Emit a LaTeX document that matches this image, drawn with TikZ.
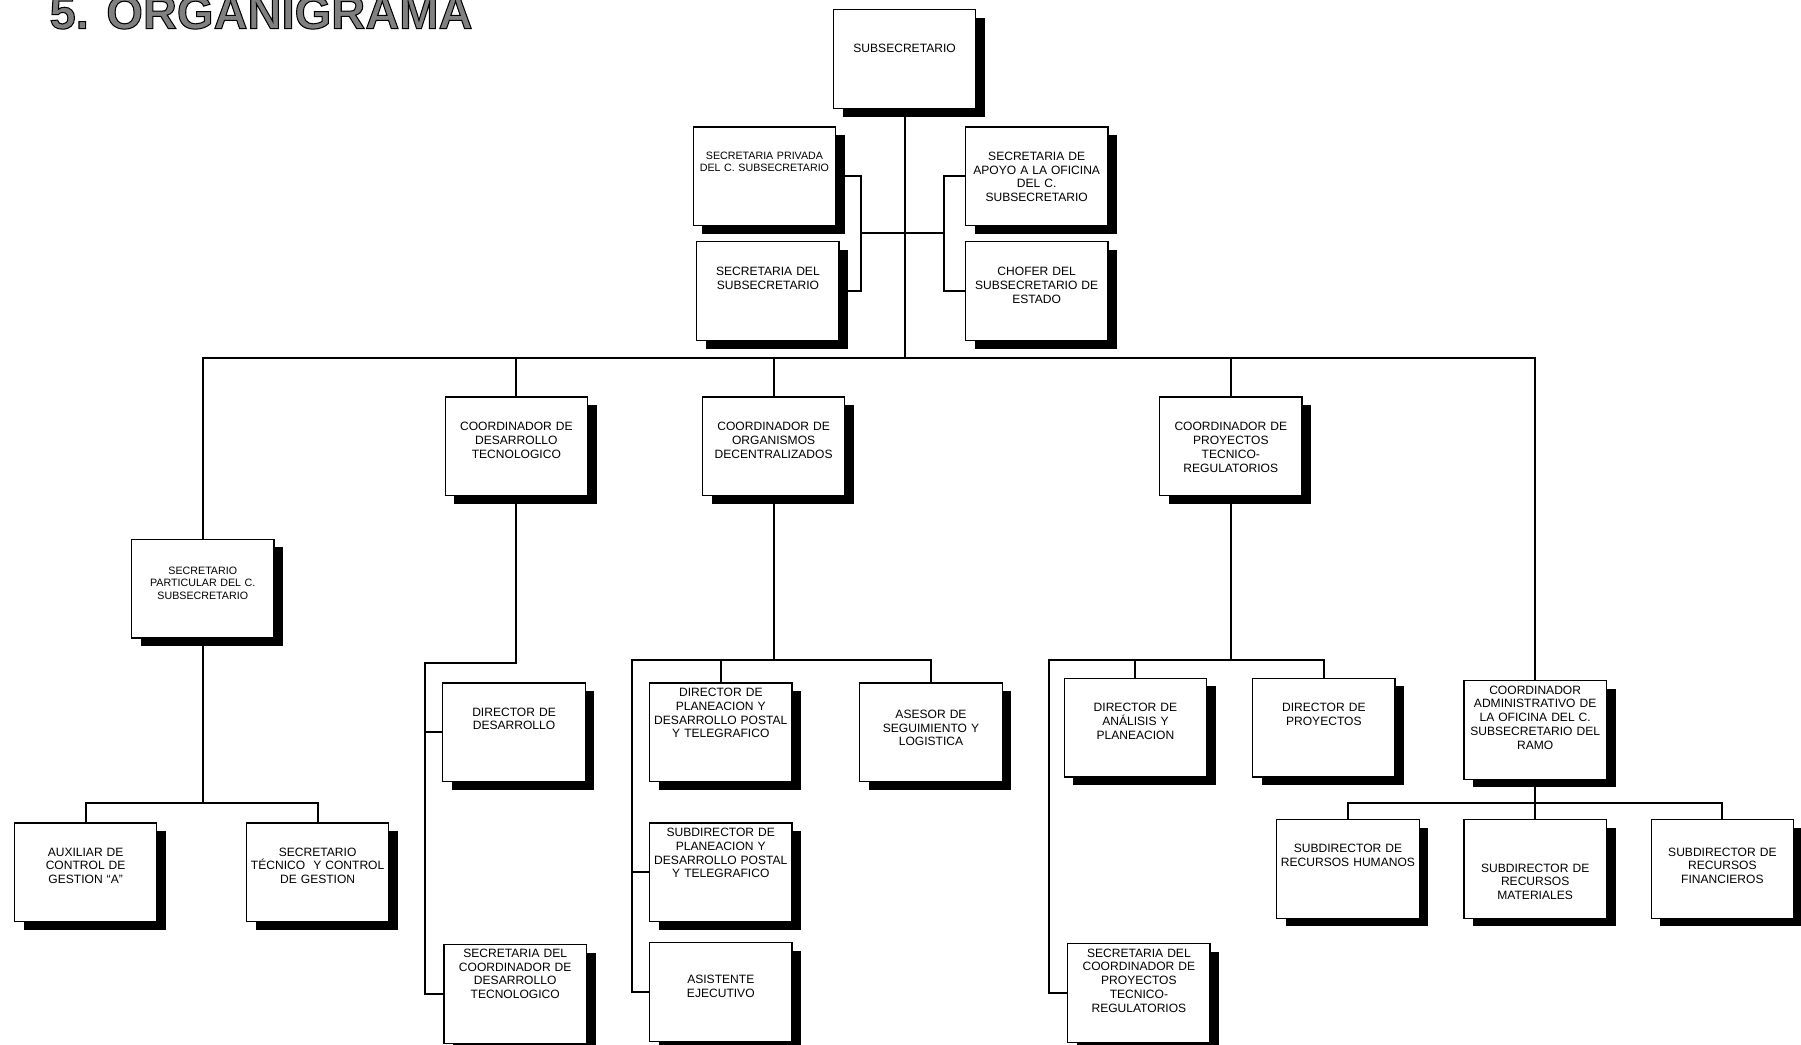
\documentclass[tikz,border=0pt]{standalone}
\usepackage{fontspec}
\setmainfont{Liberation Sans}
\usetikzlibrary{positioning,shadows}

% outlined title letters (fill, then stroke)
\newcommand\outlined[1]{\special{pdf:code 2 Tr 0.9 w 0 G}#1\special{pdf:code 0 Tr}}

\begin{document}
\begin{tikzpicture}[
  x=1pt, y=-1pt,
  box/.style={rectangle, draw, line width=1.1pt, fill=white, anchor=north west,
    text width=120pt, inner xsep=2pt, inner ysep=0pt, align=center,
    font=\fontsize{10.5}{12}\selectfont,
    drop shadow={shadow xshift=8pt, shadow yshift=-7pt, fill=black, opacity=1}},
  firstline/.code={\pgfmathsetlengthmacro\boxdepth{86pt-#1}%
    \edef\next{\noexpand\pgfkeysalso{text height=#1, text depth=\boxdepth}}\next},
  small/.style={font=\fontsize{9.3}{10.5}\selectfont},
  title/.style={font=\fontsize{41}{41}\selectfont\bfseries, text=gray, anchor=base west, inner sep=0pt},
  link/.style={line width=1.8pt}
]
\useasboundingbox (0,0) rectangle (1568,909);

% Title
\node[title] (title) at (43,25) {\outlined{5. ORGANIGRAMA}};

% Top level - Subsecretario and his staff
\node[box, firstline=37pt] (subsec) at (725,8) {SUBSECRETARIO};
\node[box, small, firstline=28.5pt] (priv) at (603,110) {SECRETARIA PRIVADA\\DEL C. SUBSECRETARIO};
\node[box, firstline=29.5pt] (secsub) at (606,210) {SECRETARIA DEL\\SUBSECRETARIO};
\node[box, firstline=29pt] (apoyo) at (840,110) {SECRETARIA DE\\APOYO A LA OFICINA\\DEL C.\\SUBSECRETARIO};
\node[box, firstline=29.5pt] (chofer) at (840,210) {CHOFER DEL\\SUBSECRETARIO DE\\ESTADO};

% Second level - Coordinadores
\node[box, small, firstline=31pt] (partic) at (114,469) {SECRETARIO\\PARTICULAR DEL C.\\SUBSECRETARIO};
\node[box, firstline=29.5pt] (coordDT) at (387,345) {COORDINADOR DE\\DESARROLLO\\TECNOLOGICO};
\node[box, firstline=29.5pt] (coordOD) at (611,345) {COORDINADOR DE\\ORGANISMOS\\DECENTRALIZADOS};
\node[box, firstline=29.5pt] (coordPTR) at (1009,345) {COORDINADOR DE\\PROYECTOS\\TECNICO-\\REGULATORIOS};
\node[box, firstline=11.8pt] (coordAdm) at (1274,592) {COORDINADOR\\ADMINISTRATIVO DE\\LA OFICINA DEL C.\\SUBSECRETARIO DEL\\RAMO};

% Third level - under Secretario Particular
\node[box, firstline=28.8pt] (aux) at (12,716) {AUXILIAR DE\\CONTROL DE\\GESTION “A”};
\node[box, firstline=28.8pt] (secTec) at (214,716) {SECRETARIO\\TÉCNICO~ Y CONTROL\\DE GESTION};

% Third level - under Desarrollo Tecnologico
\node[box, firstline=29pt] (dirDes) at (385,594) {DIRECTOR DE\\DESARROLLO};
\node[box, firstline=11pt] (secDT) at (386,822) {SECRETARIA DEL\\COORDINADOR DE\\DESARROLLO\\TECNOLOGICO};

% Third level - under Organismos Decentralizados
\node[box, firstline=11.8pt] (dirPlan) at (565,594) {DIRECTOR DE\\PLANEACION Y\\DESARROLLO POSTAL\\Y TELEGRAFICO};
\node[box, firstline=30.8pt] (asesor) at (748,594) {ASESOR DE\\SEGUIMIENTO Y\\LOGISTICA};
\node[box, firstline=11.8pt] (subPlan) at (565,716) {SUBDIRECTOR DE\\PLANEACION Y\\DESARROLLO POSTAL\\Y TELEGRAFICO};
\node[box, firstline=35.8pt] (asist) at (565,820) {ASISTENTE\\EJECUTIVO};

% Third level - under Proyectos Tecnico-Regulatorios
\node[box, firstline=29pt] (dirAn) at (926,590) {DIRECTOR DE\\ANÁLISIS Y\\PLANEACION};
\node[box, firstline=29pt] (dirProy) at (1090,590) {DIRECTOR DE\\PROYECTOS};
\node[box, firstline=11.8pt] (secPTR) at (929,821) {SECRETARIA DEL\\COORDINADOR DE\\PROYECTOS\\TECNICO-\\REGULATORIOS};

% Third level - under Coordinador Administrativo
\node[box, firstline=29pt] (subRH) at (1111,713) {SUBDIRECTOR DE\\RECURSOS HUMANOS};
\node[box, firstline=45.8pt] (subRM) at (1274,713) {SUBDIRECTOR DE\\RECURSOS\\MATERIALES};
\node[box, firstline=31.8pt] (subRF) at (1437,713) {SUBDIRECTOR DE\\RECURSOS\\FINANCIEROS};

% Junction points
\coordinate (bus) at (0,312);
\coordinate (lbr) at (750,203);
\coordinate (rbr) at (822,203);
\coordinate (pbus) at (0,699);
\coordinate (dtbus) at (370,577);
\coordinate (odbus) at (550,575);
\coordinate (ptrbus) at (913,575);
\coordinate (abus) at (0,699);

% Lines from Subsecretario
\draw[link] (subsec.south) -- (subsec.south |- bus);
\draw[link] (partic.north) |- (coordAdm.north |- bus) -- (coordAdm.north);
\foreach \n in {coordDT,coordOD,coordPTR}
  \draw[link] (\n.north) -- (\n.north |- bus);
\draw[link] (priv.east) -| (lbr) |- (secsub.east);
\draw[link] (lbr) -- (rbr);
\draw[link] (apoyo.west) -| (rbr) |- (chofer.west);

% Lines from Secretario Particular
\draw[link] (partic.south) -- (partic.south |- pbus);
\draw[link] (aux.north) |- (secTec.north |- pbus) -- (secTec.north);

% Lines from Desarrollo Tecnologico
\draw[link] (coordDT.south) |- (dtbus) |- (secDT.west);
\draw[link] (dtbus |- dirDes.west) -- (dirDes.west);

% Lines from Organismos Decentralizados
\draw[link] (coordOD.south) -- (coordOD.south |- odbus);
\draw[link] (asesor.north) |- (odbus) |- (asist.west);
\draw[link] (dirPlan.north) -- (dirPlan.north |- odbus);
\draw[link] (odbus |- subPlan.west) -- (subPlan.west);

% Lines from Proyectos Tecnico-Regulatorios
\draw[link] (coordPTR.south) -- (coordPTR.south |- ptrbus);
\draw[link] (dirProy.north) |- (ptrbus) |- (secPTR.west);
\draw[link] (dirAn.north) -- (dirAn.north |- ptrbus);

% Lines from Coordinador Administrativo
\draw[link] (coordAdm.south) -- (subRM.north);
\draw[link] (subRH.north) |- (subRF.north |- abus) -- (subRF.north);

\end{tikzpicture}
\end{document}
